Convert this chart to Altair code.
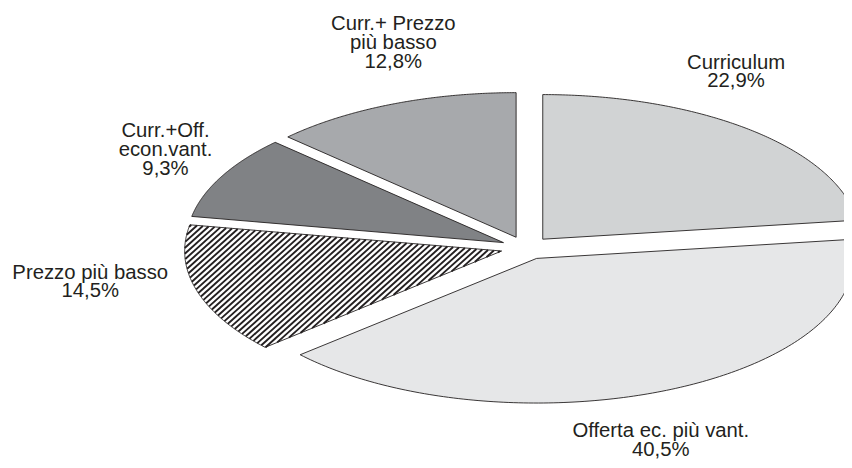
import numpy as np
import pandas as pd
import altair as alt

# ---- data ----
categories = ["Curriculum", "Offerta ec. più vant.", "Prezzo più basso",
              "Curr.+Off. econ.vant.", "Curr.+ Prezzo più basso"]
label_lines = [["Curriculum"], ["Offerta ec. più vant."], ["Prezzo più basso"],
               ["Curr.+Off.", "econ.vant."], ["Curr.+ Prezzo", "più basso"]]
values = [22.9, 40.5, 14.5, 9.3, 12.8]

# ---- styles / layout ----
fills = ["#d1d3d4", "#e6e7e8", "#ffffff", "#808285", "#a7a9ac"]
hatched = [False, False, True, False, False]
label_px = [(743, 61), (667, 433), (91, 273), (167, 130), (397, 22)]  # first-line centres
CX, CY, RX, RY = 531.0, 248.0, 320.0, 146.0
EXPLODE = 0.08
W, H = 844, 460
INK = "#231f20"

xdom = [(8 - CX) / RX, (8 + W - CX) / RX]
ydom = [(CY - 8 - H) / RY, (CY - 8) / RY]

total = sum(values)
poly_rows, hatch_rows, text_rows = [], [], []
start = 0.0
for k, (cat, val) in enumerate(zip(categories, values)):
    a0 = start
    a1 = start + val / total * 2 * np.pi
    start = a1
    m = (a0 + a1) / 2
    ox, oy = EXPLODE * np.sin(m), EXPLODE * np.cos(m)
    angs = np.linspace(a0, a1, 160)
    us = [ox] + list(ox + np.sin(angs)) + [ox]
    vs = [oy] + list(oy + np.cos(angs)) + [oy]
    for i, (u, v) in enumerate(zip(us, vs)):
        poly_rows.append({"cat": cat, "i": i, "u": u, "v": v})

    if hatched[k]:
        th = np.deg2rad(42)
        d = np.array([np.cos(th), -np.sin(th)])
        n = np.array([np.sin(th), np.cos(th)])
        px = np.array([[CX + RX * u, CY - RY * v] for u, v in zip(us, vs)])
        cproj = px @ n
        tproj = px @ d
        ts = np.arange(tproj.min() - 2, tproj.max() + 2, 0.2)
        for c in np.arange(cproj.min() + 1.0, cproj.max(), 4.3):
            pts = c * n[None, :] + ts[:, None] * d[None, :]
            uu = (pts[:, 0] - CX) / RX - ox
            vv = (CY - pts[:, 1]) / RY - oy
            r2 = uu ** 2 + vv ** 2
            ang = np.mod(np.arctan2(uu, vv), 2 * np.pi)
            inside = (r2 <= 1.0) & (ang >= a0) & (ang <= a1)
            if inside.sum() < 2:
                continue
            idx = np.where(inside)[0]
            p1, p2 = pts[idx[0]], pts[idx[-1]]
            hatch_rows.append({
                "u1": (p1[0] - CX) / RX, "v1": (CY - p1[1]) / RY,
                "u2": (p2[0] - CX) / RX, "v2": (CY - p2[1]) / RY,
            })

    pct = f"{val:.1f}".replace(".", ",") + "%"
    lx, ly = label_px[k]
    text_rows.append({"cat": cat, "txt": "\n".join(label_lines[k] + [pct]),
                      "u": (lx - CX) / RX, "v": (CY - ly) / RY})

poly = pd.DataFrame(poly_rows)
hatch = pd.DataFrame(hatch_rows)
texts = pd.DataFrame(text_rows)

xs = alt.Scale(domain=xdom, nice=False, zero=False)
ys = alt.Scale(domain=ydom, nice=False, zero=False)
fill_scale = alt.Scale(domain=categories, range=fills)

fills_layer = alt.Chart(poly).mark_line(strokeWidth=0, interpolate="linear").encode(
    x=alt.X("u:Q", scale=xs, axis=None),
    y=alt.Y("v:Q", scale=ys, axis=None),
    detail="cat:N",
    order="i:Q",
    fill=alt.Fill("cat:N", scale=fill_scale, legend=None),
)

hatch_layer = alt.Chart(hatch).mark_rule(color=INK, strokeWidth=1.9, strokeCap="butt").encode(
    x=alt.X("u1:Q", scale=xs, axis=None),
    y=alt.Y("v1:Q", scale=ys, axis=None),
    x2="u2:Q",
    y2="v2:Q",
)

outline_layer = alt.Chart(poly).mark_line(stroke=INK, strokeWidth=0.9, fill=None).encode(
    x=alt.X("u:Q", scale=xs, axis=None),
    y=alt.Y("v:Q", scale=ys, axis=None),
    detail="cat:N",
    order="i:Q",
)

text_layer = alt.Chart(texts).mark_text(
    font="Liberation Sans", fontSize=20.5, lineHeight=19, color=INK,
    align="center", baseline="middle", lineBreak="\n",
).encode(
    x=alt.X("u:Q", scale=xs, axis=None),
    y=alt.Y("v:Q", scale=ys, axis=None),
    text="txt:N",
)

chart = alt.layer(fills_layer, hatch_layer, outline_layer, text_layer).properties(
    width=W, height=H, padding=0, autosize=alt.AutoSizeParams(type="none"),
    background="white",
).configure_view(stroke=None)

chart.save("out.html", embed_options={"renderer": "svg", "actions": False})
